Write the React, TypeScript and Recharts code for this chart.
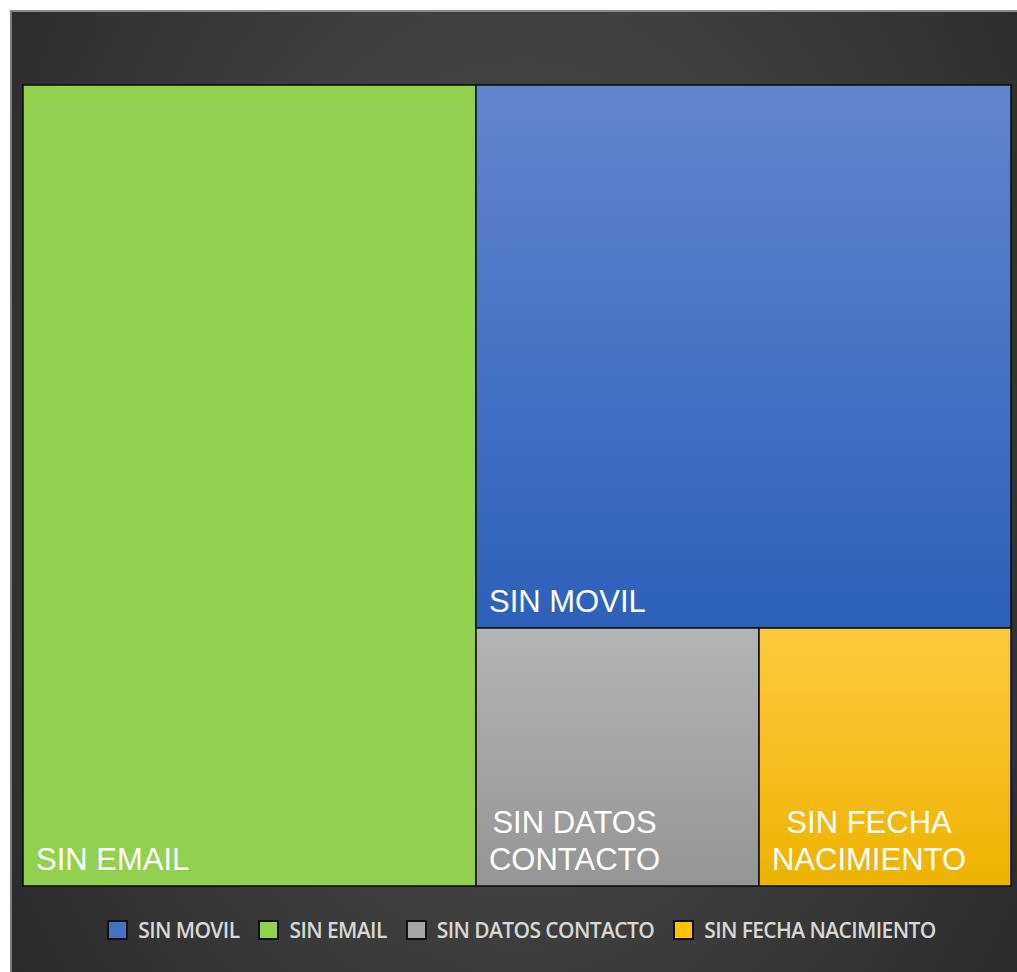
import React from 'react';
import { Treemap } from 'recharts';

/* ------------------------------------------------------------------ */
/*  Data                                                               */
/* ------------------------------------------------------------------ */

// legend order
const CATEGORIES = ['SIN MOVIL', 'SIN EMAIL', 'SIN DATOS CONTACTO', 'SIN FECHA NACIMIENTO'];
const VALUES = [3671, 4585, 923, 822];
const COLORS = ['#4472c4', '#92d050', '#a5a5a5', '#ffc000'];

/* ------------------------------------------------------------------ */
/*  Styles                                                             */
/* ------------------------------------------------------------------ */

// top / bottom stop of each tile's vertical gradient
const TILE_GRADIENTS: [string, string][] = [
  ['#6286ce', '#2d60ba'],
  ['#92d050', '#92d050'],
  ['#b4b4b4', '#959595'],
  ['#ffc93f', '#edb300'],
];

const LABEL_FONT_SIZE = 31;
const LABEL_FONT_FAMILY = '"Liberation Sans", Arial, sans-serif';
const LABEL_LINE_HEIGHT = 37;

const TREEMAP_LEFT = 23;
const TREEMAP_TOP = 85;
const TREEMAP_WIDTH = 988;
const TREEMAP_HEIGHT = 801;

const treemapData = CATEGORIES.map((name, i) => ({ name, value: VALUES[i] })).sort(
  (a, b) => b.value - a.value,
);

/* ------------------------------------------------------------------ */
/*  Text helpers                                                       */
/* ------------------------------------------------------------------ */

let measureCtx: CanvasRenderingContext2D | null = null;

function textWidth(s: string) {
  if (!measureCtx) measureCtx = document.createElement('canvas').getContext('2d');
  if (!measureCtx) return s.length * LABEL_FONT_SIZE * 0.6;
  measureCtx.font = `${LABEL_FONT_SIZE}px ${LABEL_FONT_FAMILY}`;
  return measureCtx.measureText(s).width;
}

function wrapLabel(label: string, maxWidth: number) {
  const words = label.split(' ');
  const lines: string[] = [];
  let current = '';
  words.forEach((w) => {
    const next = current ? `${current} ${w}` : w;
    if (current && textWidth(next) > maxWidth) {
      lines.push(current);
      current = w;
    } else {
      current = next;
    }
  });
  if (current) lines.push(current);
  return lines;
}

/* ------------------------------------------------------------------ */
/*  Tile renderer                                                      */
/* ------------------------------------------------------------------ */

function TileContent(props: any) {
  const { x, y, width, height, depth, name } = props;
  if (!depth) {
    return <rect x={x} y={y} width={width} height={height} fill="none" stroke="#111" strokeWidth={2} />;
  }

  const idx = CATEGORIES.indexOf(name);
  const lines = wrapLabel(name, width - 26);
  const blockWidth = Math.max(...lines.map(textWidth));
  const cx = x + 13 + blockWidth / 2;
  const lastBaseline = y + height - 16;

  return (
    <g>
      <rect
        x={x}
        y={y}
        width={width}
        height={height}
        fill={`url(#tile-grad-${idx})`}
        stroke="#141414"
        strokeWidth={1.6}
      />
      <text
        textAnchor="middle"
        fill="#ffffff"
        fontFamily={LABEL_FONT_FAMILY}
        fontSize={LABEL_FONT_SIZE}
      >
        {lines.map((line, i) => (
          <tspan key={i} x={cx} y={lastBaseline - (lines.length - 1 - i) * LABEL_LINE_HEIGHT}>
            {line}
          </tspan>
        ))}
      </text>
    </g>
  );
}

/* ------------------------------------------------------------------ */
/*  Legend                                                             */
/* ------------------------------------------------------------------ */

function TileLegend() {
  return (
    <div
      style={{
        position: 'absolute',
        left: 10,
        top: 920,
        width: 1023,
        height: 20,
        display: 'flex',
        justifyContent: 'center',
        alignItems: 'center',
        gap: 19,
        fontFamily: '"Open Sans", sans-serif',
        fontSize: 21,
        fontWeight: 600,
        letterSpacing: -0.6,
        color: '#d8d8d8',
      }}
    >
      {CATEGORIES.map((c, i) => (
        <div key={c} style={{ display: 'flex', alignItems: 'center', gap: 10 }}>
          <span
            style={{
              width: 17,
              height: 16,
              background: COLORS[i],
              border: '2px solid #111',
              display: 'inline-block',
            }}
          />
          <span style={{ lineHeight: '20px', whiteSpace: 'nowrap' }}>{c}</span>
        </div>
      ))}
    </div>
  );
}

/* ------------------------------------------------------------------ */
/*  App                                                                */
/* ------------------------------------------------------------------ */

export default function App() {
  return (
    <div
      style={{
        position: 'relative',
        width: 1017,
        height: 972,
        background: '#ffffff',
        overflow: 'hidden',
      }}
    >
      <style>{'body{margin:0} .tm-wrap svg{overflow:visible}'}</style>

      <svg width={0} height={0} style={{ position: 'absolute' }}>
        <defs>
          {TILE_GRADIENTS.map(([top, bottom], i) => (
            <linearGradient key={i} id={`tile-grad-${i}`} x1="0" y1="0" x2="0" y2="1">
              <stop offset="0%" stopColor={top} />
              <stop offset="100%" stopColor={bottom} />
            </linearGradient>
          ))}
        </defs>
      </svg>

      <div
        style={{
          position: 'absolute',
          left: 10,
          top: 10,
          width: 1020,
          height: 970,
          boxSizing: 'border-box',
          borderTop: '2px solid #8a8a8a',
          borderLeft: '2px solid #7c7c7c',
          background:
            'radial-gradient(ellipse 62% 95% at 50% 45%, #4a4a4a 0%, #414141 45%, #2a2a2a 100%)',
        }}
      />

      <div
        className="tm-wrap"
        style={{ position: 'absolute', left: TREEMAP_LEFT, top: TREEMAP_TOP }}
      >
        <Treemap
          width={TREEMAP_WIDTH}
          height={TREEMAP_HEIGHT}
          data={treemapData}
          dataKey="value"
          nameKey="name"
          aspectRatio={1}
          isAnimationActive={false}
          content={<TileContent />}
        />
      </div>

      <TileLegend />
    </div>
  );
}
